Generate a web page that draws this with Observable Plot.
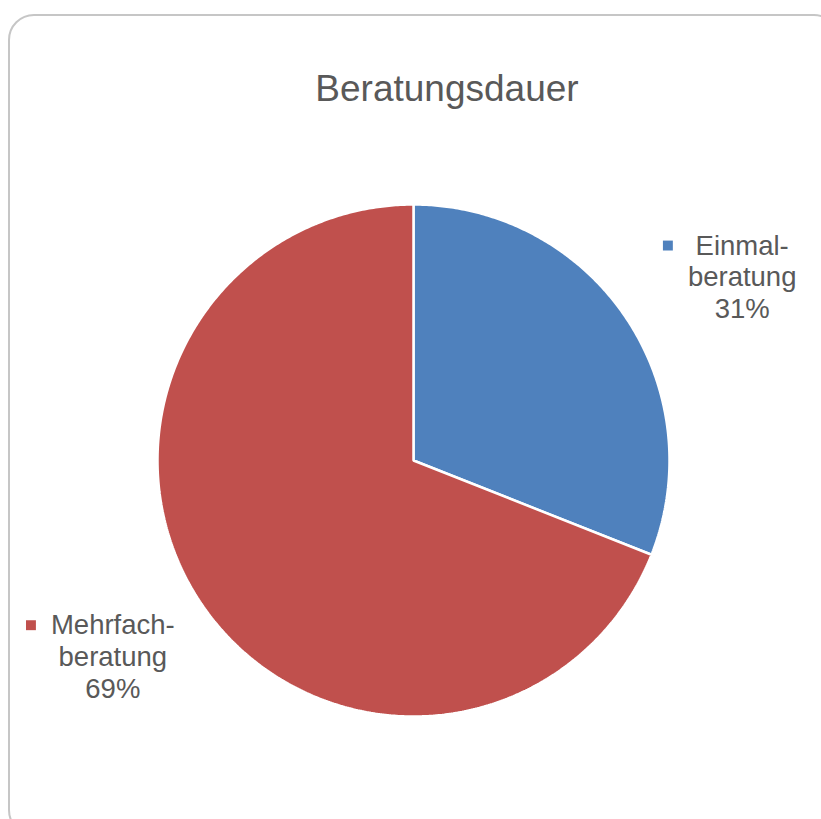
<!DOCTYPE html>
<html>
<head>
<meta charset="utf-8">
<script src="https://cdn.jsdelivr.net/npm/d3@7"></script>
<script src="https://cdn.jsdelivr.net/npm/@observablehq/plot@0.6"></script>
<style>
  html, body { margin: 0; padding: 0; background: #fff; overflow: hidden; }
  #wrap { position: relative; width: 821px; height: 819px; }
  #frame { position: absolute; left: 8px; top: 14px; width: 832px; height: 822px; box-sizing: border-box;
           border: 2px solid #c6c6c6; border-radius: 26px; }
  #chart { position: absolute; left: 0; top: 0; }
</style>
</head>
<body>
<div id="wrap"><div id="frame"></div><div id="chart"></div></div>
<script>
// ---- data ----
const title = "Beratungsdauer";
const categories = ["Einmalberatung", "Mehrfachberatung"];
const labelLines = [["Einmal-", "beratung"], ["Mehrfach-", "beratung"]];
const values = [31, 69];
const colors = ["#4F81BD", "#C0504D"];

// ---- layout ----
const W = 821, H = 819;
const cx = 413, cy = 460, R = 256;
const font = "Liberation Sans, Arial, sans-serif";
const textColor = "#595959";

// slice polygons built from the values (angles clockwise from 12 o'clock)
const total = d3.sum(values);
const pie = d3.pie().sort(null).value(d => d)(values);
const rows = [];
pie.forEach((p, i) => {
  rows.push({name: categories[i], x: 0, y: 0});
  const n = Math.max(2, Math.ceil((p.endAngle - p.startAngle) / (Math.PI / 360)));
  for (let k = 0; k <= n; k++) {
    const a = p.startAngle + (p.endAngle - p.startAngle) * k / n;
    rows.push({name: categories[i], x: Math.sin(a), y: Math.cos(a)});
  }
});

// labels at slice mid angle
const labelR = [1.42, 1.42];
const labelShift = [[28, 20], [0, -9]];
const labels = pie.map((p, i) => {
  const a = (p.startAngle + p.endAngle) / 2;
  return {
    name: categories[i],
    text: [...labelLines[i], Math.round(values[i] / total * 100) + "%"].join("\n"),
    x: labelR[i] * Math.sin(a),
    y: labelR[i] * Math.cos(a),
    i
  };
});

const fs = 27.5;
const ctx = document.createElement("canvas").getContext("2d");
ctx.font = `${fs}px Liberation Sans`;
const maxW = labelLines.map((ls, i) => d3.max([...ls, values[i] + "%"], s => ctx.measureText(s).width));

const marks = [
  Plot.line(rows, {x: "x", y: "y", z: "name", fill: "name", stroke: "white", strokeWidth: 2.5,
                   strokeLinejoin: "miter", curve: "linear-closed"}),
  Plot.text([title], {frameAnchor: "top", dx: 36, dy: 74, fontSize: 37, fill: textColor,
                      fontFamily: font, text: d => d})
];
labels.forEach((l, i) => {
  const [sx, sy] = labelShift[i];
  marks.push(Plot.text([l], {x: "x", y: "y", text: "text", dx: sx, dy: sy, fontSize: fs, lineHeight: 1.15,
                             fill: textColor, fontFamily: font, textAnchor: "middle"}));
  marks.push(Plot.dot([l], {x: "x", y: "y", symbol: "square", r: 5.6, fill: "name", stroke: null,
                            dx: sx - maxW[i] / 2 - 20, dy: sy - 1.15 * fs + 1}));
});

const chart = Plot.plot({
  width: W, height: H,
  margin: 0,
  x: {domain: [-cx / R, (W - cx) / R], axis: null},
  y: {domain: [(cy - H) / R, cy / R], axis: null},
  color: {domain: categories, range: colors},
  style: {background: "transparent", fontFamily: font},
  marks
});
document.getElementById("chart").append(chart);
</script>
</body>
</html>
